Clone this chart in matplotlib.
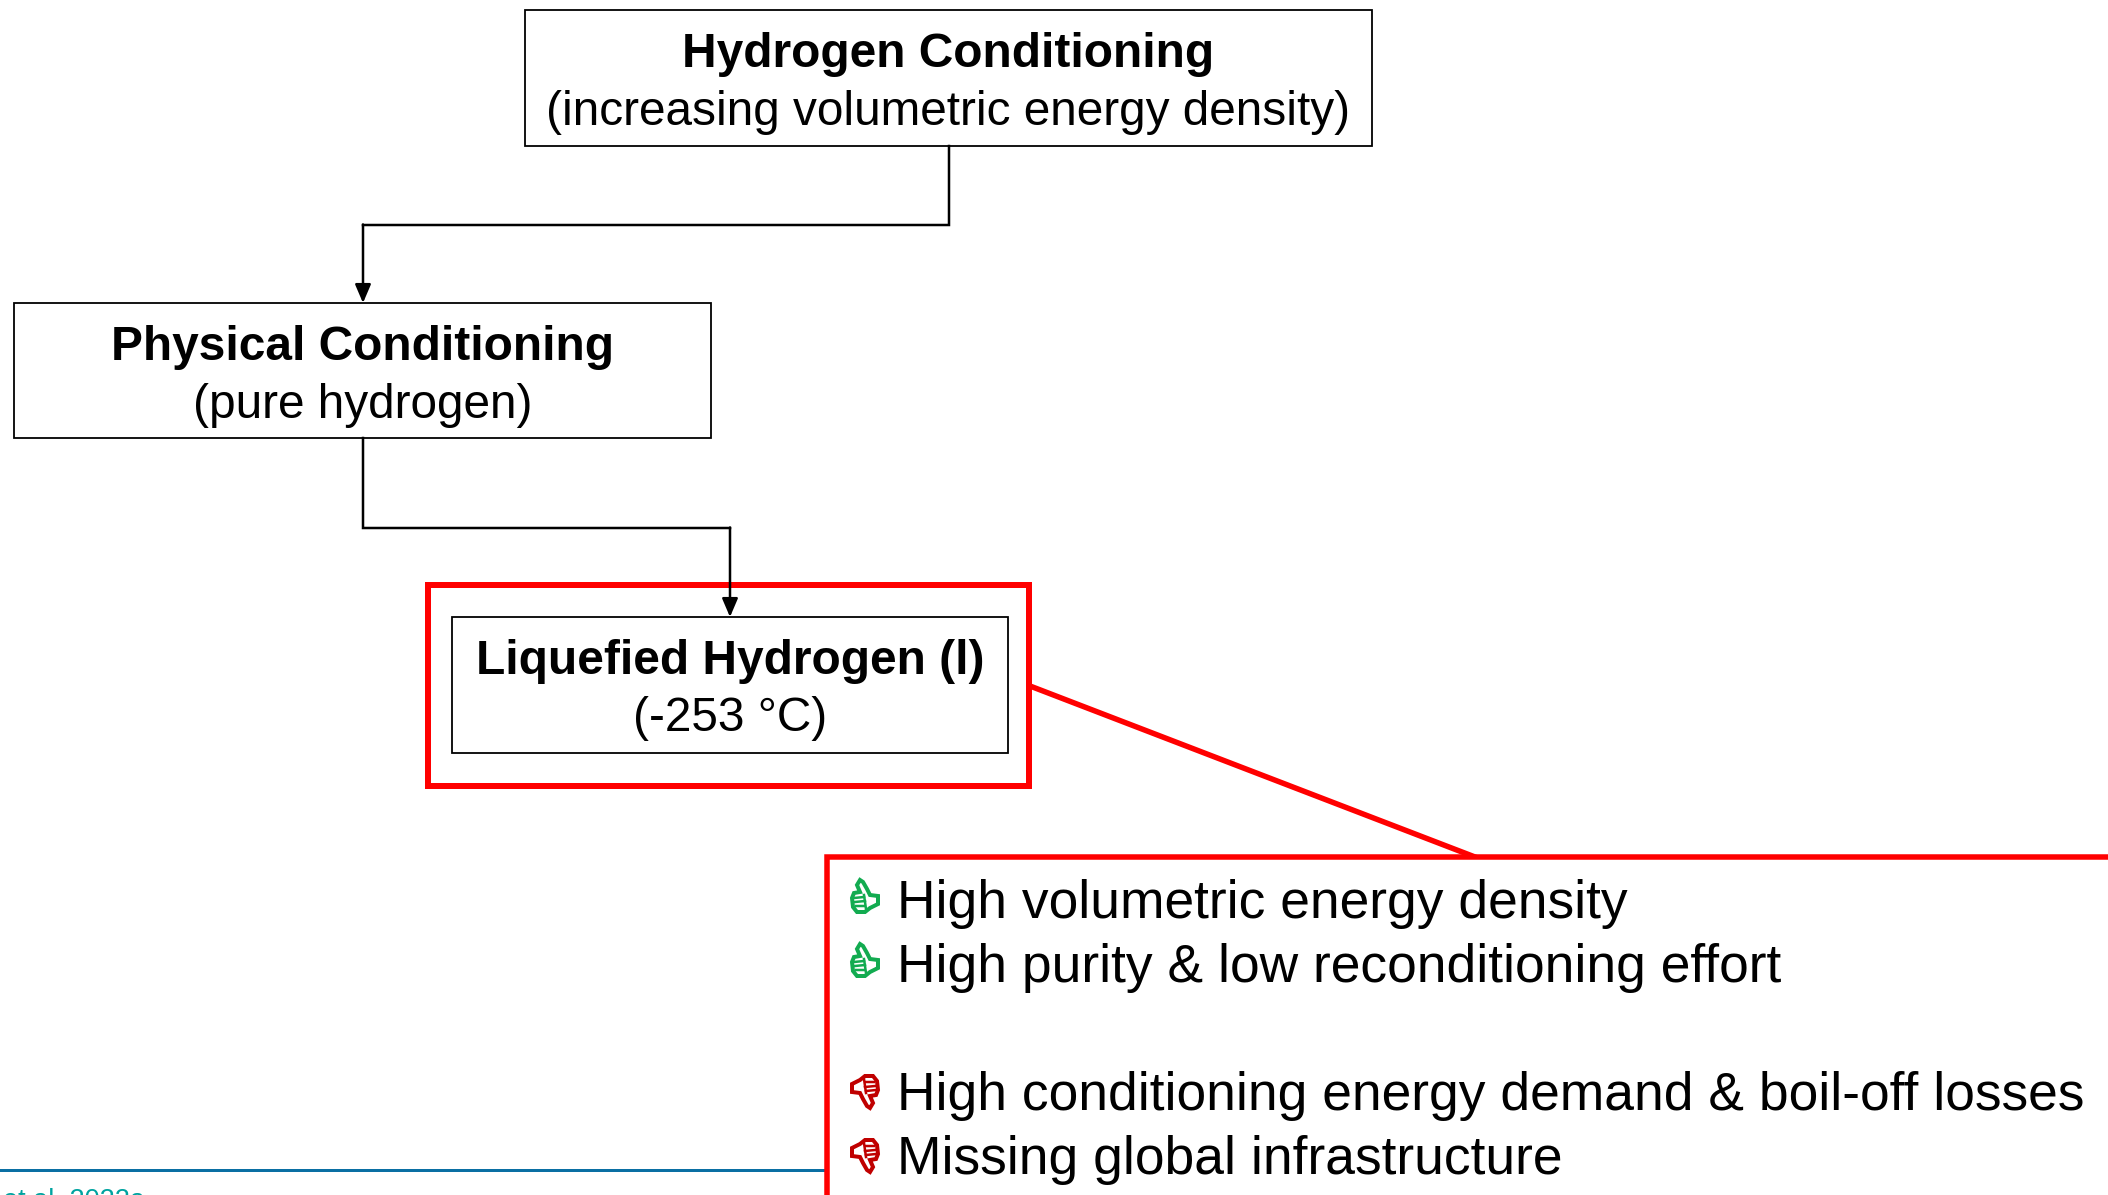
import matplotlib
matplotlib.use("Agg")
import matplotlib.pyplot as plt
from matplotlib.patches import Rectangle, Polygon

plt.rcParams['font.family'] = ['Liberation Sans', 'DejaVu Sans']

W, H = 2108, 1195
PX = 72 / 100  # one pixel in points at dpi 100

# flow boxes: title, subtitle
box_titles = ["Hydrogen Conditioning", "Physical Conditioning", "Liquefied Hydrogen (l)"]
box_subtitles = ["(increasing volumetric energy density)", "(pure hydrogen)", "(-253 °C)"]

pros = ["High volumetric energy density", "High purity & low reconditioning effort"]
cons = ["High conditioning energy demand & boil-off losses", "Missing global infrastructure"]

footer = "et al. 2022a"

GREEN = "#12ab50"
DARK_RED = "#c00000"
RED = "#ff0000"
BLUE = "#0a6fa3"
TEAL = "#00a3a0"


def draw_box(ax, x0, y0, x1, y1, title, sub, y_title, y_sub):
    ax.add_patch(Rectangle((x0, y0), x1 - x0, y1 - y0, fc="white", ec="black", lw=1.8 * PX, zorder=3))
    cx = (x0 + x1) / 2
    ax.text(cx, y_title, title, ha="center", va="baseline", fontsize=34.5, fontweight="bold", zorder=4)
    ax.text(cx, y_sub, sub, ha="center", va="baseline", fontsize=34.4, zorder=4)


def draw_elbow(ax, pts):
    xs = [p[0] for p in pts]
    ys = [p[1] for p in pts]
    ax.plot(xs[:-1], ys[:-1], color="black", lw=2.5 * PX, solid_joinstyle="miter", zorder=5)
    ax.annotate("", xy=pts[-1], xytext=pts[-2],
                arrowprops=dict(arrowstyle="-|>,head_length=0.75,head_width=0.32", color="black",
                                lw=2.5 * PX, shrinkA=0, shrinkB=0, mutation_scale=15), zorder=5)


# thumb icon, pixel offsets from its top-left corner, pointing up
THUMB = [(9, 1), (6, 6), (9, 13), (3, 14), (1, 19), (2, 28), (6, 33), (14, 33), (19, 29),
         (27, 25), (27, 17), (19, 16), (16, 10), (12, 3)]
CURLS = [[(3, 19), (13, 18)], [(4, 23), (14, 22)], [(5, 27), (13, 27)], [(13, 16), (15, 30)]]


def draw_thumb(ax, x, y, color, down=False):
    def place(p):
        if down:
            return (x + 28 - p[0], y + 34 - p[1])
        return (x + p[0], y + p[1])
    ax.add_patch(Polygon([place(p) for p in THUMB], closed=True, fc="white", ec=color, lw=4 * PX, zorder=6))
    for c in CURLS:
        a, b = place(c[0]), place(c[1])
        ax.plot([a[0], b[0]], [a[1], b[1]], color=color, lw=2.5 * PX, zorder=7)


fig = plt.figure(figsize=(W / 100, H / 100), dpi=100)
ax = fig.add_axes([0, 0, 1, 1])
ax.set_xlim(0, W)
ax.set_ylim(H, 0)
ax.axis("off")

# footer rule and clipped citation
ax.plot([0, 827], [1169.5, 1169.5], color=BLUE, lw=3 * PX, zorder=1)
ax.text(145, 1208, footer, ha="right", va="baseline", fontsize=19.5, color=TEAL, zorder=1)

# connector and red frames
ax.plot([1030, 1475], [686, 857], color=RED, lw=5.5 * PX, zorder=2)
ax.add_patch(Rectangle((428, 584.5), 601, 201, fc="white", ec=RED, lw=6 * PX, zorder=2))
ax.add_patch(Rectangle((827, 857), 1500, 600, fc="white", ec=RED, lw=5.5 * PX, zorder=2))

draw_box(ax, 525, 10, 1372, 146, box_titles[0], box_subtitles[0], 67, 125)
draw_box(ax, 14, 303, 711, 438, box_titles[1], box_subtitles[1], 360, 418)
draw_box(ax, 452, 617, 1008, 753, box_titles[2], box_subtitles[2], 674, 731)

draw_elbow(ax, [(949, 146), (949, 224.5), (363, 224.5), (363, 303)])
draw_elbow(ax, [(363, 438), (363, 527.5), (730, 527.5), (730, 617)])

# pros / cons list
for label, y in zip(pros, [918, 982]):
    ax.text(897, y, label, ha="left", va="baseline", fontsize=38.4, zorder=4)
    draw_thumb(ax, 851, y - 39, GREEN)
for label, y in zip(cons, [1110, 1174]):
    ax.text(897, y, label, ha="left", va="baseline", fontsize=38.4, zorder=4)
    draw_thumb(ax, 851, y - 35, DARK_RED, down=True)

fig.savefig("out.png", dpi=100)
